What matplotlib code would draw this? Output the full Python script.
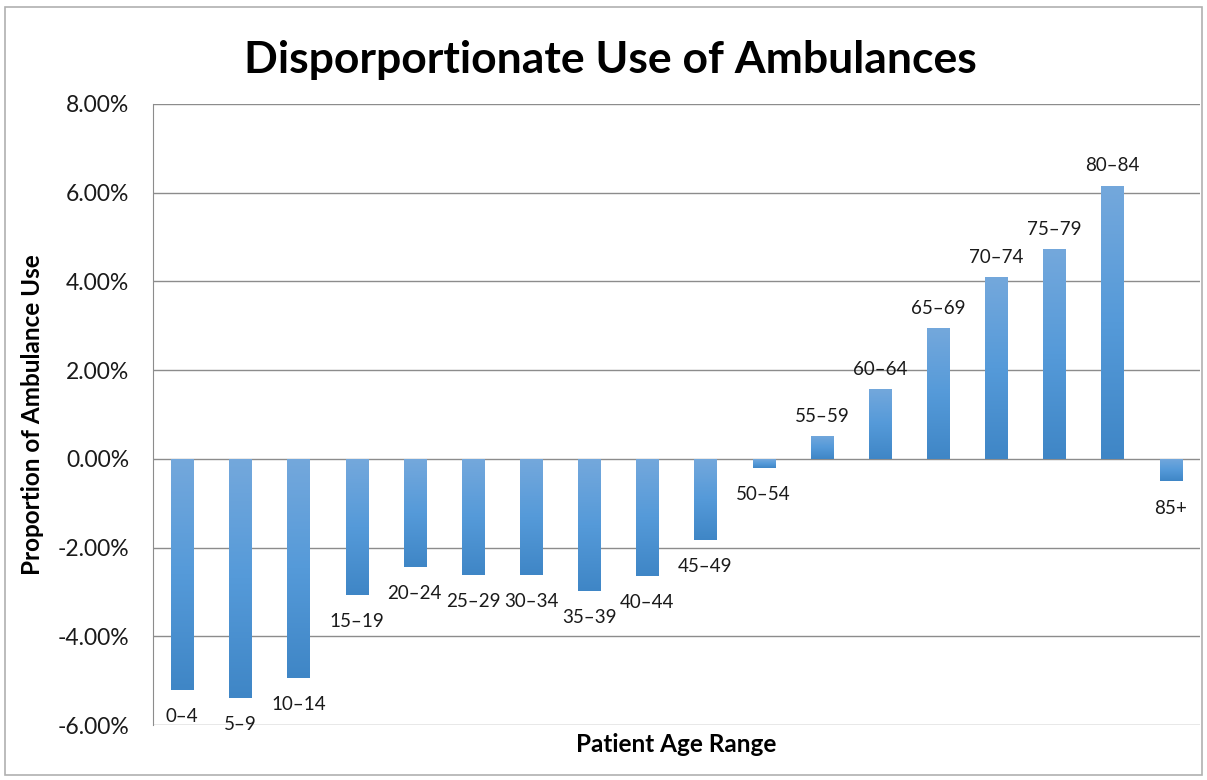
import matplotlib
matplotlib.use("Agg")
import matplotlib.pyplot as plt
import numpy as np
from matplotlib.colors import LinearSegmentedColormap
from matplotlib.patches import Rectangle
from matplotlib.ticker import FuncFormatter, MultipleLocator

plt.rcParams['font.family'] = ['Lato', 'DejaVu Sans']

categories = ["0–4", "5–9", "10–14", "15–19", "20–24", "25–29", "30–34", "35–39",
              "40–44", "45–49", "50–54", "55–59", "60–64", "65–69", "70–74",
              "75–79", "80–84", "85+"]
values = [-5.22, -5.40, -4.95, -3.06, -2.43, -2.61, -2.61, -2.97, -2.65, -1.83,
          -0.20, 0.52, 1.58, 2.95, 4.10, 4.73, 6.16, -0.51]
title = "Disporportionate Use of Ambulances"
xlabel = "Patient Age Range"
ylabel = "Proportion of Ambulance Use"

fig = plt.figure(figsize=(12.07, 7.8), dpi=100)
ax = fig.add_axes([0.1268, 0.0705, 0.8672, 0.7962])

# outer chart border
fig.patches.append(Rectangle((0.004, 0.006), 0.992, 0.985, transform=fig.transFigure,
                             fill=False, edgecolor="#b0b0b0", linewidth=1.2))

x = np.arange(len(categories))
bars = ax.bar(x, values, width=0.38, color="none", edgecolor="none", zorder=3)

cmap = LinearSegmentedColormap.from_list("g", ["#74a8dc", "#559ad9", "#3f86c6"])
grad = np.linspace(0, 1, 256).reshape(-1, 1)
for b in bars:
    x0, w = b.get_x(), b.get_width()
    y0, h = b.get_y(), b.get_height()
    ylo, yhi = min(y0, y0 + h), max(y0, y0 + h)
    im = ax.imshow(grad, cmap=cmap, aspect="auto", extent=(x0, x0 + w, ylo, yhi),
                   origin="upper", zorder=3, interpolation="bilinear")
    im.set_clip_path(b)

for xi, v, lab in zip(x, values, categories):
    if v >= 0:
        ax.annotate(lab, (xi, v), xytext=(0, 8), textcoords="offset points",
                    ha="center", va="bottom", fontsize=13.5, color="#1a1a1a")
    else:
        ax.annotate(lab, (xi, v), xytext=(0, -13), textcoords="offset points",
                    ha="center", va="top", fontsize=13.5, color="#1a1a1a")

ax.set_xlim(-0.5, len(categories) - 0.5)
ax.set_ylim(-6, 8)
ax.yaxis.set_major_locator(MultipleLocator(2))
ax.yaxis.set_major_formatter(FuncFormatter(lambda v, p: f"{v:.2f}%"))
ax.set_xticks([])
ax.grid(axis="y", color="#8c8c8c", linewidth=1.0, zorder=0)
ax.set_axisbelow(True)
for s in ["top", "right", "bottom"]:
    ax.spines[s].set_visible(False)
ax.spines["left"].set_color("#8c8c8c")
ax.tick_params(axis="y", length=0, labelsize=16.5, pad=17, labelcolor="#1a1a1a")

fig.text(0.506, 0.923, title, ha="center", va="center", fontsize=32, fontweight="bold")
ax.set_xlabel(xlabel, fontsize=17.5, fontweight="bold", labelpad=6)
fig.text(0.027, 0.469, ylabel, rotation=90, ha="center", va="center", fontsize=17.5,
         fontweight="bold")

fig.savefig("out.png", dpi=100)
